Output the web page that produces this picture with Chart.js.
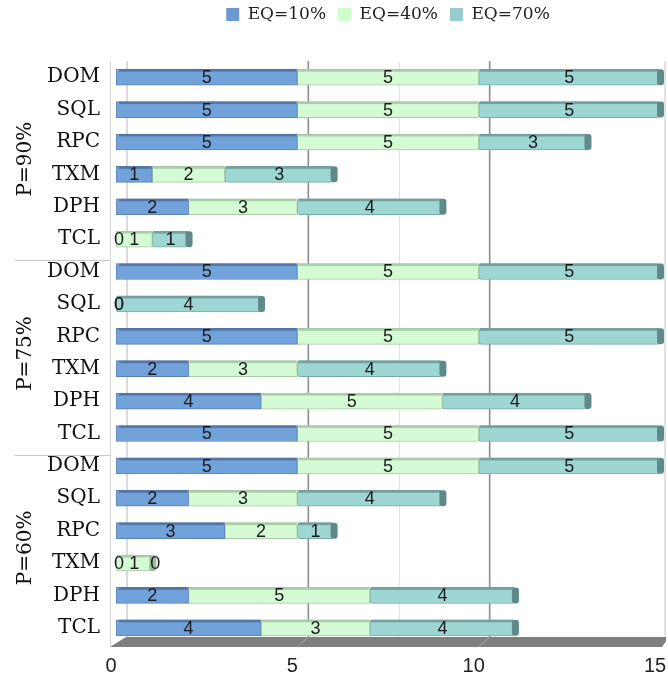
<!DOCTYPE html>
<html>
<head>
<meta charset="utf-8">
<title>EQ by P</title>
<style>
  html, body { margin: 0; padding: 0; background: #ffffff; }
  #wrap { width: 668px; height: 685px; position: relative; }
</style>
<script src="https://cdn.jsdelivr.net/npm/chart.js@4/dist/chart.umd.min.js"></script>
</head>
<body>
<div id="wrap"><canvas id="c" width="668" height="685"></canvas></div>
<script>
// Groups (outer category level) and services (inner level), top to bottom
const groups = ['P=90%', 'P=75%', 'P=60%'];
const services = ['DOM', 'SQL', 'RPC', 'TXM', 'DPH', 'TCL'];
const seriesNames = ['EQ=10%', 'EQ=40%', 'EQ=70%'];

// Stacked counts per row, same order as the rows
const eq10 = [5, 5, 5, 1, 2, 0,   5, 0, 5, 2, 4, 5,   5, 2, 3, 0, 2, 4];
const eq40 = [5, 5, 5, 2, 3, 1,   5, 0, 5, 3, 5, 5,   5, 3, 2, 1, 5, 3];
const eq70 = [5, 5, 3, 3, 4, 1,   5, 4, 5, 4, 4, 5,   5, 4, 1, 0, 4, 4];

const xTicks = [0, 5, 10, 15];
const minorBackLine = 7.5;

const categories = groups.flatMap(() => services);

// Colours: front face, outline, top face, end cap, legend swatch
const faceColors   = ['#72a2da', '#d4fbd3', '#9ed6d4'];
const borderColors = ['#5b80b2', '#a9cba8', '#78aaa8'];
const topColors    = ['#4f709e', '#a6c5a5', '#6d9897'];
const capColors    = ['#4a6a96', '#9cbb9b', '#5f8a89'];
const swatchColors = ['#6e9ad2', '#ccffcc', '#99cccc'];

const seriesData = [eq10, eq40, eq70];

const DEPTH = 11; // horizontal shift of the back wall

function roundRect(ctx, x, y, w, h, r) {
  r = Math.min(r, w / 2, h / 2);
  ctx.beginPath();
  ctx.moveTo(x + r, y);
  ctx.lineTo(x + w - r, y);
  ctx.quadraticCurveTo(x + w, y, x + w, y + r);
  ctx.lineTo(x + w, y + h - r);
  ctx.quadraticCurveTo(x + w, y + h, x + w - r, y + h);
  ctx.lineTo(x + r, y + h);
  ctx.quadraticCurveTo(x, y + h, x, y + h - r);
  ctx.lineTo(x, y + r);
  ctx.quadraticCurveTo(x, y, x + r, y);
  ctx.closePath();
}

// Legend spacing and position tweaks
const legendTweak = {
  id: 'legendTweak',
  beforeInit(chart) {
    const lg = chart.legend;
    if (!lg) return;
    const fit = lg.fit;
    lg.fit = function () {
      fit.call(this);
      this.height = 61;
    };
    const draw = lg.draw;
    lg.draw = function () {
      const c = this.ctx;
      c.save();
      c.translate(0, -6);
      draw.call(this);
      c.restore();
    };
  }
};

// Back wall, floor, left wall and group separators
const wallAndFloor = {
  id: 'wallAndFloor',
  beforeDatasetsDraw(chart) {
    const { ctx, chartArea: a, scales: { x, y } } = chart;
    const floorBottom = a.bottom + 3;
    const floorTop = floorBottom - 10;
    ctx.save();

    // faint line on the back wall
    ctx.strokeStyle = '#e2e2e2';
    ctx.lineWidth = 1;
    let px = Math.round(x.getPixelForValue(minorBackLine) + DEPTH) + 0.5;
    ctx.beginPath(); ctx.moveTo(px, a.top); ctx.lineTo(px, floorTop); ctx.stroke();

    // back wall gridlines
    xTicks.forEach((v, i) => {
      const last = i === xTicks.length - 1;
      const xx = last ? Math.min(x.getPixelForValue(v) + 5, chart.width - 2) : x.getPixelForValue(v) + DEPTH;
      ctx.strokeStyle = last ? '#c4c4c4' : (i === 0 ? '#b5b5b5' : '#8c8c8c');
      ctx.lineWidth = last || i === 0 ? 1 : 1.6;
      ctx.beginPath(); ctx.moveTo(xx, a.top); ctx.lineTo(xx, floorTop); ctx.stroke();
    });

    // left wall edge
    ctx.strokeStyle = '#d6d6d6';
    ctx.lineWidth = 1;
    const lw = Math.round(a.left - 6) + 0.5;
    ctx.beginPath(); ctx.moveTo(lw, a.top); ctx.lineTo(lw, floorBottom); ctx.stroke();

    // floor
    const x0 = x.getPixelForValue(xTicks[0]);
    const x1 = x.getPixelForValue(xTicks[xTicks.length - 1]);
    ctx.fillStyle = '#7f7f7f';
    ctx.beginPath();
    ctx.moveTo(x0 + DEPTH - 1, floorTop);
    ctx.lineTo(x1 + 6, floorTop);
    ctx.lineTo(x1 + 2, floorBottom);
    ctx.lineTo(a.left - 6, floorBottom);
    ctx.closePath();
    ctx.fill();
    ctx.fillStyle = '#6a6a6a';
    ctx.beginPath();
    ctx.moveTo(x1 + 6, floorTop);
    ctx.lineTo(x1 + 6, floorTop + 4);
    ctx.lineTo(x1 + 2, floorBottom);
    ctx.closePath();
    ctx.fill();
    ctx.strokeStyle = '#a8a8a8';
    ctx.lineWidth = 1;
    xTicks.slice(1, -1).forEach(v => {
      const xx = x.getPixelForValue(v);
      ctx.beginPath(); ctx.moveTo(xx + DEPTH, floorTop); ctx.lineTo(xx, floorBottom); ctx.stroke();
    });

    // separators between groups on the category axis
    ctx.strokeStyle = '#c8c8c8';
    ctx.lineWidth = 1;
    for (let g = 1; g < groups.length; g++) {
      const iLast = g * services.length - 1;
      const yy = Math.round((y.getPixelForValue(iLast) + y.getPixelForValue(iLast + 1)) / 2 + 5) + 0.5;
      ctx.beginPath(); ctx.moveTo(15, yy); ctx.lineTo(a.left - 6, yy); ctx.stroke();
    }
    ctx.restore();
  },
  afterDraw(chart) {
    const { ctx, scales: { y } } = chart;
    ctx.save();
    ctx.fillStyle = '#111111';
    ctx.font = '20px "DejaVu Serif"';
    ctx.textAlign = 'center';
    ctx.textBaseline = 'middle';
    groups.forEach((g, gi) => {
      const i0 = gi * services.length;
      const i1 = i0 + services.length - 1;
      const cy = (y.getPixelForValue(i0) + y.getPixelForValue(i1)) / 2 + 1;
      ctx.save();
      ctx.translate(26, cy);
      ctx.rotate(-Math.PI / 2);
      ctx.fillText(g, 0, 0);
      ctx.restore();
    });
    ctx.restore();
  }
};

// Bar shading (top face, end cap) and value labels
const barDecor = {
  id: 'barDecor',
  afterDatasetsDraw(chart) {
    const ctx = chart.ctx;
    ctx.save();
    const metas = seriesData.map((_, d) => chart.getDatasetMeta(d));
    for (let i = 0; i < categories.length; i++) {
      let lastD = -1;
      seriesData.forEach((arr, d) => {
        if (arr[i] > 0) lastD = d;
      });
      seriesData.forEach((arr, d) => {
        if (arr[i] <= 0) return;
        const el = metas[d].data[i];
        const left = Math.min(el.x, el.base);
        const right = Math.max(el.x, el.base);
        const top = el.y - el.height / 2;
        ctx.fillStyle = topColors[d];
        ctx.globalAlpha = 0.85;
        ctx.fillRect(left + (d === 0 ? 3 : 1), top, right - left - (d === 0 ? 4 : 2), 2.5);
        ctx.globalAlpha = 1;
      });
      if (lastD >= 0) {
        const el = metas[lastD].data[i];
        const right = Math.max(el.x, el.base);
        const top = el.y - el.height / 2;
        ctx.fillStyle = capColors[lastD];
        roundRect(ctx, right - 3, top, 7, el.height, 3);
        ctx.fill();
      }
    }
    // value labels
    ctx.fillStyle = '#1b1b1b';
    ctx.font = '18px "Liberation Sans"';
    ctx.textAlign = 'center';
    ctx.textBaseline = 'middle';
    seriesData.forEach((arr, d) => {
      arr.forEach((v, i) => {
        const el = metas[d].data[i];
        const cx = v > 0 ? (el.x + el.base) / 2 : el.base + 3;
        ctx.fillText(String(v), cx, el.y + 1);
      });
    });
    ctx.restore();
  }
};

new Chart(document.getElementById('c'), {
  type: 'bar',
  data: {
    labels: categories,
    datasets: seriesNames.map((name, d) => ({
      label: name,
      data: seriesData[d],
      backgroundColor: faceColors[d],
      borderColor: borderColors[d],
      borderWidth: 1,
      borderSkipped: false,
      borderRadius: 3,
      barThickness: 16
    }))
  },
  options: {
    indexAxis: 'y',
    responsive: false,
    animation: false,
    layout: { padding: { left: 10, right: 8, top: 0, bottom: 5 } },
    plugins: {
      legend: {
        position: 'top',
        fullSize: false,
        labels: {
          font: { family: 'DejaVu Serif', size: 17 },
          color: '#222222',
          boxWidth: 13,
          boxHeight: 13,
          padding: 12,
          generateLabels: (chart) => chart.data.datasets.map((ds, d) => ({
            text: ds.label,
            fillStyle: swatchColors[d],
            strokeStyle: swatchColors[d],
            lineWidth: 0,
            hidden: false,
            datasetIndex: d,
            fontColor: '#222222'
          }))
        }
      },
      tooltip: { enabled: false }
    },
    scales: {
      x: {
        type: 'linear',
        stacked: true,
        min: xTicks[0],
        max: xTicks[xTicks.length - 1],
        afterBuildTicks: (s) => { s.ticks = xTicks.map(v => ({ value: v })); },
        afterFit: (s) => { s.height = 36; s.paddingLeft = 0; s.paddingRight = 0; },
        ticks: {
          font: { family: 'Liberation Sans', size: 20 },
          color: '#222222',
          padding: 10,
          labelOffset: -5,
          maxRotation: 0
        },
        grid: { display: false, drawTicks: false },
        border: { display: false }
      },
      y: {
        type: 'category',
        stacked: true,
        afterFit: (s) => { s.width = 106; s.paddingTop = 0; s.paddingBottom = 0; },
        ticks: {
          font: { family: 'DejaVu Serif', size: 20 },
          color: '#111111',
          padding: 16,
          autoSkip: false
        },
        grid: { display: false, drawTicks: false },
        border: { display: false }
      }
    }
  },
  plugins: [legendTweak, wallAndFloor, barDecor]
});
</script>
</body>
</html>
